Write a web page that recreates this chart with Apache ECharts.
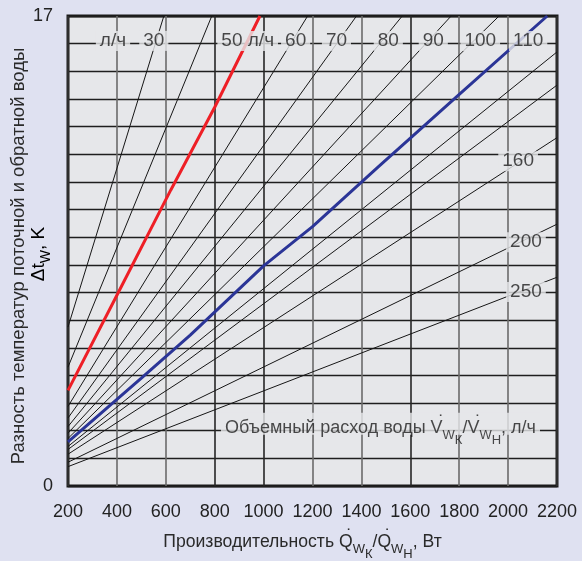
<!DOCTYPE html>
<html>
<head>
<meta charset="UTF-8">
<title>Δt / Q</title>
<script src="https://cdn.jsdelivr.net/npm/echarts@6/dist/echarts.min.js"></script>
<style>
  html, body { margin: 0; padding: 0; background: #dfe1f1; }
  #chart { width: 582px; height: 561px; }
</style>
</head>
<body>
<div id="chart"></div>
<script type="text/javascript">
    // тонкие линии расхода: Δt при Q=200 и конечная точка
    var thinNames = ['30', '40', '60', '70', '80', '90', '100', '120', '130', '160', '200', '250'];
    var thinStart = [5.75, 4.3, 2.88, 2.46, 2.15, 1.91, 1.72, 1.43, 1.32, 1.15, 0.86, 0.7];
    var thinEnd = [[592, 17], [788, 17], [1180, 17], [1380, 17], [1567, 17], [1767, 17], [1963, 17],
        [2200, 15.7], [2200, 14.5], [2200, 12.6], [2200, 9.47], [2200, 7.55]];

    // выделенные линии 50 и 110 л/ч
    var redLine = [[200, 3.46], [400, 6.9], [620, 10.7], [800, 13.7], [985, 17]];
    var blueLine = [[200, 1.6], [500, 3.9], [700, 5.46], [1000, 7.96], [1200, 9.38], [1470, 11.55], [1790, 14.08], [2160, 17]];

    // подписи
    var topLabels = ['л/ч', '30', '50 л/ч', '60', '70', '80', '90', '100', '110'];
    var topLabelQ = [384, 551, 935, 1131, 1298, 1510, 1694, 1886, 2082];
    var sideLabels = ['160', '200', '250'];
    var sideLabelQ = [2041, 2073, 2073];
    var sideLabelT = [11.75, 8.82, 7.02];

    var plotBg = '#e6e7ea';

    // стили для подстрочных индексов и точки над буквой
    function richSet(color, size) {
        var sub = Math.round(size * 0.72);
        return {
            n: {fontFamily: 'Liberation Sans', fontSize: size, color: color, lineHeight: 20, verticalAlign: 'top', padding: [4, 0, 0, 0]},
            d: {fontFamily: 'Liberation Sans', fontSize: size, color: color, lineHeight: 20, verticalAlign: 'top', padding: [-1, 0, 0, 0], width: 0.01},
            s: {fontFamily: 'Liberation Sans', fontSize: sub, color: color, lineHeight: 12, verticalAlign: 'top', padding: [14, 0, 0, 0]},
            ss: {fontFamily: 'Liberation Sans', fontSize: sub, color: color, lineHeight: 12, verticalAlign: 'top', padding: [19, 0, 0, 0]}
        };
    }
    var dot = '{d|\u2002\u2002\u2009˙}';

    var series = [];
    for (var i = 0; i < thinNames.length; i++) {
        series.push({
            name: thinNames[i],
            type: 'line',
            symbol: 'none',
            silent: true,
            lineStyle: {color: '#161616', width: 1},
            data: [[200, thinStart[i]], thinEnd[i]]
        });
    }
    series.push({
        name: '50', type: 'line', symbol: 'none', silent: true,
        lineStyle: {color: '#ee1f26', width: 3},
        data: redLine
    });
    series.push({
        name: '110', type: 'line', symbol: 'none', silent: true,
        lineStyle: {color: '#2b3597', width: 3},
        data: blueLine
    });

    var labelData = [];
    for (var j = 0; j < topLabels.length; j++) {
        labelData.push([topLabelQ[j], 16.1, topLabels[j]]);
    }
    for (var k = 0; k < sideLabels.length; k++) {
        labelData.push([sideLabelQ[k], sideLabelT[k], sideLabels[k]]);
    }
    series.push({
        type: 'scatter',
        symbolSize: 0,
        silent: true,
        z: 10,
        label: {
            show: true,
            position: 'inside',
            formatter: function (p) { return p.value[2]; },
            fontFamily: 'Liberation Sans',
            fontSize: 19,
            color: '#1e1e1e',
            backgroundColor: plotBg,
            padding: [1, 4, 0, 4]
        },
        data: labelData
    });
    series.push({
        type: 'scatter',
        symbolSize: 0,
        silent: true,
        z: 10,
        label: {
            show: true,
            position: 'inside',
            formatter: '{n|Объемный расход воды }' + dot + '{n|V}{s|W}{ss|К}{n|/}' + dot + '{n|V}{s|W}{ss|Н}{n|, л/ч}',
            backgroundColor: plotBg,
            padding: [2, 4, 0, 4],
            rich: richSet('#1e1e1e', 18)
        },
        data: [[1478, 2.25]]
    });

    var option = {
        backgroundColor: '#dfe1f1',
        animation: false,
        grid: {
            left: 68, right: 25, top: 16, bottom: 75,
            outerBoundsMode: 'none',
            containLabel: false,
            show: true,
            backgroundColor: plotBg,
            borderColor: '#1a1a1a',
            borderWidth: 3
        },
        graphic: [
            {
                type: 'text',
                x: 19, y: 256,
                rotation: Math.PI / 2,
                style: {
                    text: 'Разность температур поточной и обратной воды',
                    font: '18.5px "Liberation Sans"',
                    fill: '#2a2a2a',
                    align: 'center',
                    verticalAlign: 'middle'
                }
            },
            {
                type: 'text',
                x: 35, y: 254,
                rotation: Math.PI / 2,
                style: {
                    text: '{n|Δt}{s|W}{n|, K}',
                    rich: richSet('#2a2a2a', 19),
                    align: 'center',
                    verticalAlign: 'middle'
                }
            }
        ],
        xAxis: {
            type: 'value',
            min: 200, max: 2200, interval: 200,
            name: '{n|Производительность }' + dot + '{n|Q}{s|W}{ss|К}{n|/}' + dot + '{n|Q}{s|W}{ss|Н}{n|, Вт}',
            nameLocation: 'middle',
            nameGap: 43,
            nameTextStyle: {
                padding: [0, 20, 0, 0],
                rich: richSet('#2a2a2a', 17.6)
            },
            axisLine: {show: false},
            axisTick: {show: false},
            axisLabel: {
                margin: 17, fontFamily: 'Liberation Sans', fontSize: 18, color: '#222',
                formatter: function (v) { return String(v); }
            },
            splitLine: {
                show: true,
                lineStyle: {
                    color: ['#333', '#6b6b6b', '#6b6b6b', '#262626', '#262626', '#6b6b6b', '#6b6b6b', '#262626', '#6b6b6b', '#6b6b6b', '#333'],
                    width: 1.6
                }
            }
        },
        yAxis: {
            type: 'value',
            min: 0, max: 17, interval: 1,
            axisLine: {show: false},
            axisTick: {show: false},
            axisLabel: {
                margin: 15, fontFamily: 'Liberation Sans', fontSize: 18, color: '#222',
                formatter: function (v) { return (v === 0 || v === 17) ? String(v) : ''; }
            },
            splitLine: {show: true, lineStyle: {color: '#1e1e1e', width: 1.3}}
        },
        series: series
    };

    var myChart = echarts.init(document.getElementById('chart'));
    myChart.setOption(option);
</script>
</body>
</html>
